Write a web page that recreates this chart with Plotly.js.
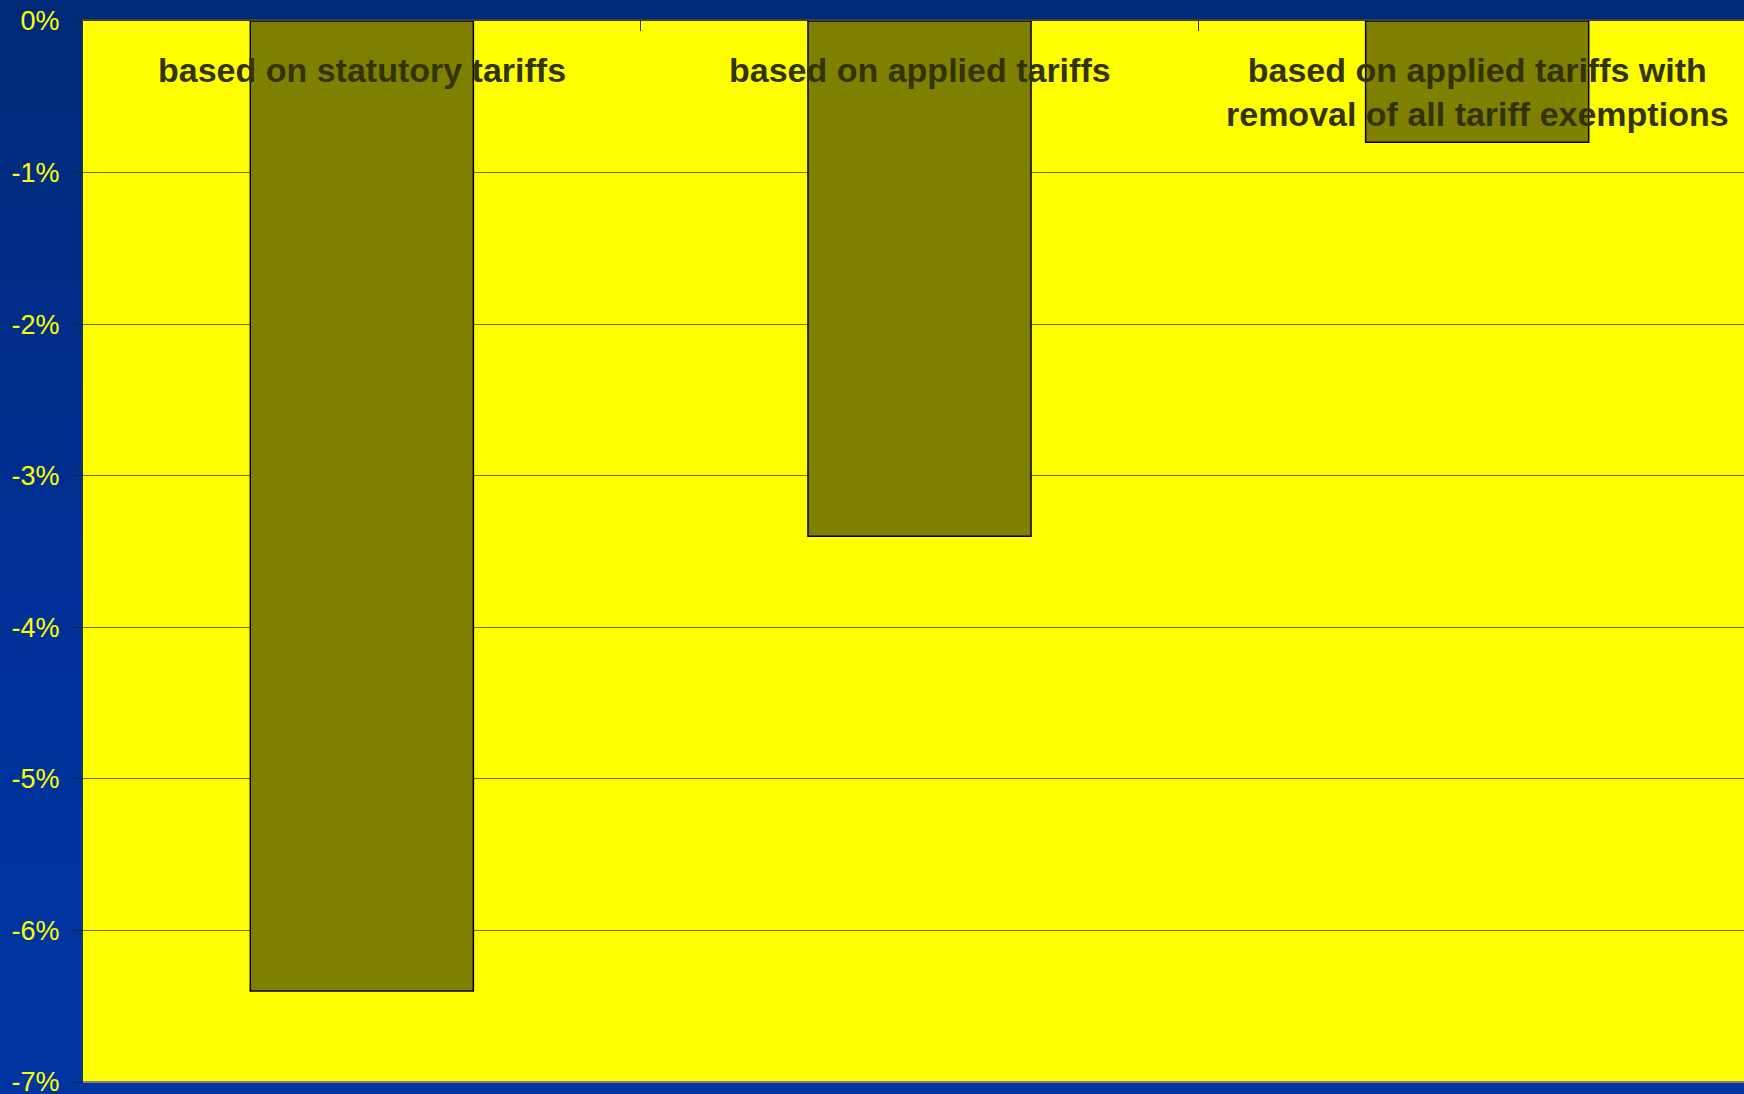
<!DOCTYPE html>
<html>
<head>
<meta charset="utf-8">
<script src="https://cdn.plot.ly/plotly-3.0.1.min.js"></script>
<style>
html, body { margin: 0; padding: 0; width: 1744px; height: 1094px; overflow: hidden;
  background: linear-gradient(to bottom, #002a78 0%, #00319a 60%, #0036a2 100%); }
#chart { width: 1756px; height: 1094px; }
</style>
</head>
<body>
<div id="chart"></div>
<script>
const categories = ["based on statutory tariffs", "based on applied tariffs", "based on applied tariffs with<br>removal of all tariff exemptions"];
const values = [-6.4, -3.4, -0.8];
const yTicks = [0, -1, -2, -3, -4, -5, -6, -7];

const trace = {
  type: 'bar',
  x: categories,
  y: values,
  marker: { color: '#808000', line: { color: '#000000', width: 1.5 } },
  hoverinfo: 'skip'
};

const annotations = categories.map(c => ({
  x: c, xref: 'x', y: 1, yref: 'paper',
  yanchor: 'top', xanchor: 'center', yshift: -28,
  text: '<b>' + c + '</b>', showarrow: false,
  font: { family: 'Liberation Sans, Arial, sans-serif', size: 34, color: '#333300' }
}));

const layout = {
  width: 1756, height: 1094,
  margin: { l: 83, r: 0, t: 21, b: 12, pad: 0 },
  paper_bgcolor: 'rgba(0,0,0,0)',
  plot_bgcolor: '#ffff00',
  showlegend: false,
  bargap: 0.6,
  xaxis: {
    type: 'category', side: 'top', showticklabels: false,
    tickson: 'boundaries', ticks: 'inside', ticklen: 10, tickcolor: '#333333', tickwidth: 1,
    showline: true, linecolor: '#404040', linewidth: 2, showgrid: false, zeroline: false,
    fixedrange: true
  },
  yaxis: {
    range: [-7, 0], tickvals: yTicks, ticktext: yTicks.map(v => v + '%'),
    ticks: 'outside', ticklen: 10, tickcolor: '#222222', tickwidth: 1,
    ticklabelstandoff: 7, ticklabeloverflow: 'allow',
    showline: true, linecolor: '#333333', linewidth: 1,
    showgrid: true, gridcolor: '#6b6b00', gridwidth: 1, zeroline: false,
    tickfont: { family: 'Liberation Sans, Arial, sans-serif', size: 27, color: '#ffff00' },
    fixedrange: true
  },
  shapes: [{ type: 'line', xref: 'paper', yref: 'paper', x0: 0, x1: 1, y0: 0, y1: 0,
    line: { color: '#808080', width: 2 } }],
  annotations: annotations
};

Plotly.newPlot('chart', [trace], layout, { displayModeBar: false, staticPlot: true });
</script>
</body>
</html>
